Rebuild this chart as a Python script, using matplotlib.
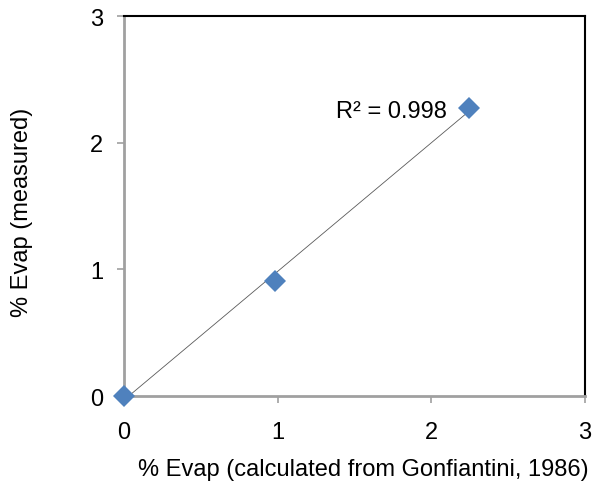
import matplotlib.pyplot as plt
import numpy as np

plt.rcParams['font.family'] = ['Liberation Sans', 'DejaVu Sans']

# Evaporation: calculated (Gonfiantini, 1986) vs measured
evap_calc = [0.0, 0.98, 2.245]
evap_meas = [0.0, 0.908, 2.273]
ticks = [0, 1, 2, 3]

x = np.array(evap_calc)
y = np.array(evap_meas)
slope, intercept = np.polyfit(x, y, 1)
r2 = np.corrcoef(x, y)[0, 1] ** 2

fig = plt.figure(figsize=(5.93, 4.89), dpi=100)
ax = fig.add_axes([0.209, 0.188, 0.7775, 0.777])

# linear trendline over the data range
xfit = np.array([x.min(), x.max()])
ax.plot(xfit, slope * xfit + intercept, color='#595959', linewidth=0.6, zorder=2)
ax.plot(x, y, linestyle='none', marker='D', markersize=11.5, color='#4F81BD',
        markeredgewidth=0, zorder=3, clip_on=False)

ax.text(2.1, 2.25, f'R² = {r2:.3f}', fontsize=17, ha='right', va='center')

ax.set_xlim(0, 3)
ax.set_ylim(0, 3)
ax.set_xticks(ticks)
ax.set_yticks(ticks)
ax.tick_params(labelsize=17, length=5, width=1.2, color='#A0A0A0')
ax.tick_params(axis='x', pad=13)
ax.tick_params(axis='y', pad=10)

for side in ('left', 'bottom'):
    ax.spines[side].set_color('#A0A0A0')
    ax.spines[side].set_linewidth(2)
for side in ('top', 'right'):
    ax.spines[side].set_color('black')
    ax.spines[side].set_linewidth(1.5)

ax.set_xlabel('% Evap (calculated from Gonfiantini, 1986)', fontsize=17)
ax.set_ylabel('% Evap (measured)', fontsize=17)
ax.xaxis.set_label_coords(0.52, -0.163)
ax.yaxis.set_label_coords(-0.197, 0.487)

fig.savefig('out.png', dpi=100)
